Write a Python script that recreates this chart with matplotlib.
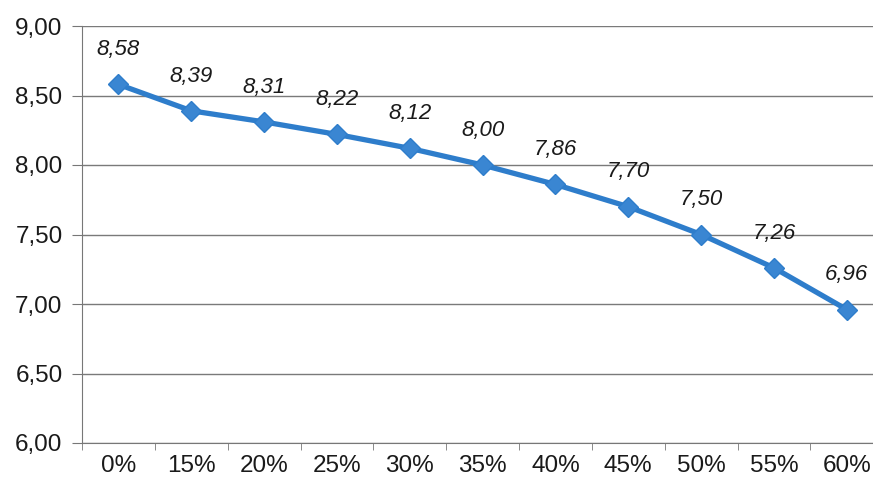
import matplotlib
matplotlib.use("Agg")
import matplotlib.pyplot as plt
from matplotlib.ticker import FixedLocator, NullFormatter

categories = ["0%", "15%", "20%", "25%", "30%", "35%", "40%", "45%", "50%", "55%", "60%"]
values = [8.58, 8.39, 8.31, 8.22, 8.12, 8.00, 7.86, 7.70, 7.50, 7.26, 6.96]
yticks = [6.0, 6.5, 7.0, 7.5, 8.0, 8.5, 9.0]

plt.rcParams['font.family'] = ['Liberation Sans', 'DejaVu Sans']

fig = plt.figure(figsize=(8.73, 4.84), dpi=100)
ax = fig.add_axes([82/873, 41/484, 1 - 82/873, 417/484])

x = list(range(len(categories)))
ax.plot(x, values, color="#2E7DCB", linewidth=3.8, marker="D", markersize=10,
        markerfacecolor="#3A86D2", markeredgecolor="#2E7DCB", zorder=3, clip_on=False)

for xi, v in zip(x, values):
    ax.annotate(f"{v:.2f}".replace(".", ","), (xi, v), xytext=(0, 25),
                textcoords="offset points", ha="center", va="center",
                fontsize=16, style="italic", color="#1a1a1a")

ax.set_xlim(-0.5, 10.36)
ax.set_ylim(6.0, 9.0)
ax.set_yticks(yticks)
ax.set_yticklabels([f"{t:.2f}".replace(".", ",") for t in yticks], fontsize=17.5, color="#1a1a1a")
ax.set_xticks(x)
ax.set_xticklabels(categories, fontsize=17.5, color="#1a1a1a")
ax.tick_params(axis="x", which="major", length=0, pad=9)
ax.xaxis.set_minor_locator(FixedLocator([i + 0.5 for i in range(-1, 10)]))
ax.xaxis.set_minor_formatter(NullFormatter())
ax.tick_params(axis="x", which="minor", length=5, color="#777777", direction="out")
ax.tick_params(axis="y", length=7, color="#777777", direction="out", pad=7)

ax.grid(axis="y", color="#7a7a7a", linewidth=1.0, linestyle="-")
ax.set_axisbelow(True)
for s in ["top", "right"]:
    ax.spines[s].set_visible(False)
ax.spines["left"].set_color("#777777")
ax.spines["bottom"].set_color("#777777")

fig.savefig("out.png", dpi=100)
